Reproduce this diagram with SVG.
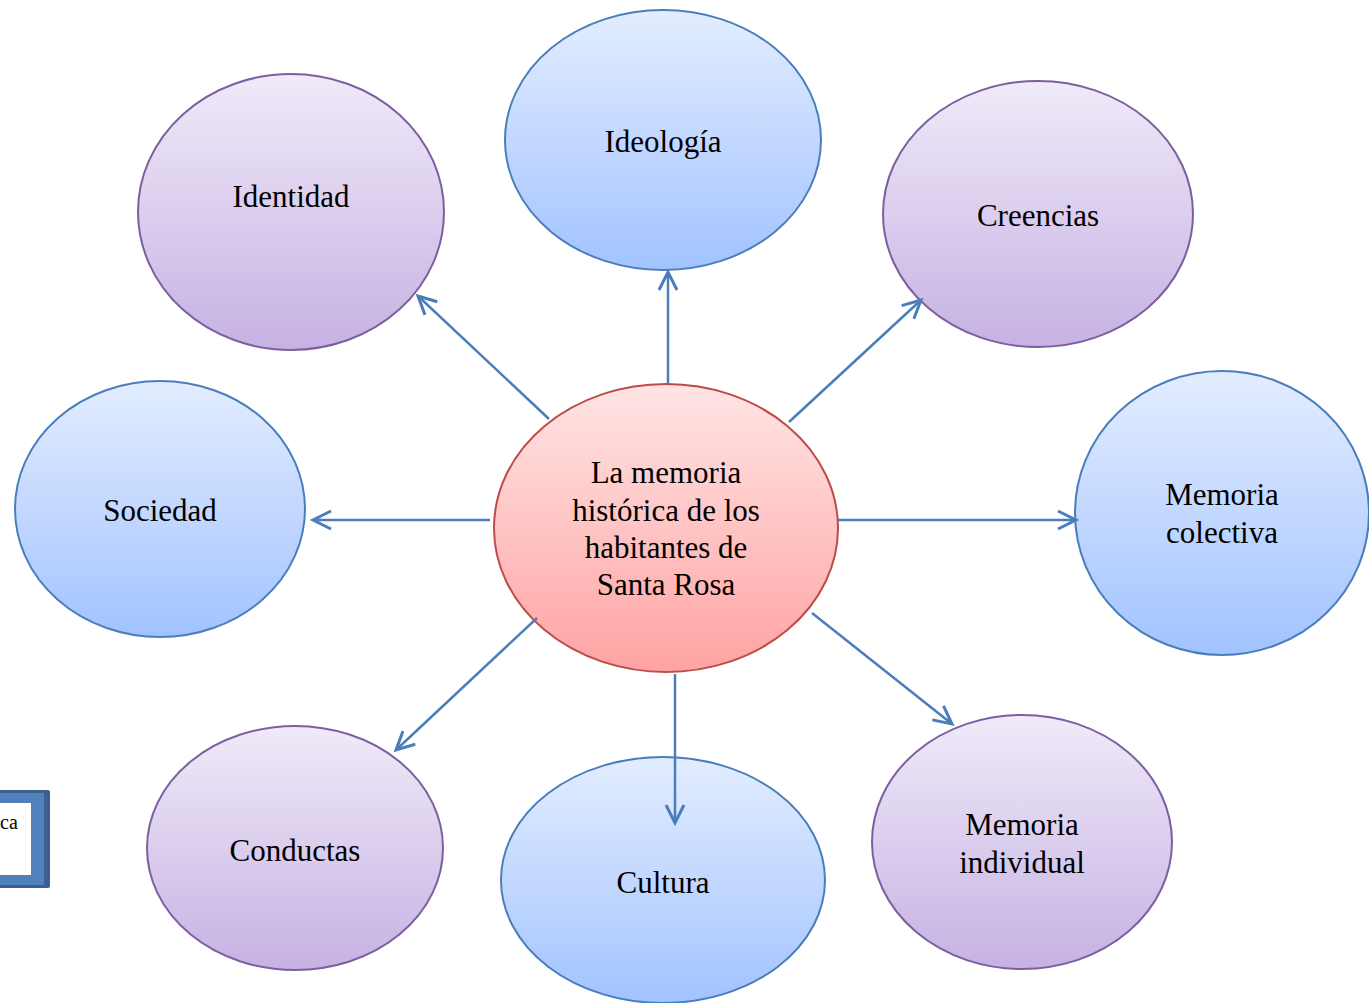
<svg xmlns="http://www.w3.org/2000/svg" width="1369" height="1003" viewBox="0 0 1369 1003">
<defs>
<linearGradient id="gp" x1="0" y1="0" x2="0" y2="1"><stop offset="0" stop-color="#F0EAF9"/><stop offset="1" stop-color="#C6B2E3"/></linearGradient>
<linearGradient id="gb" x1="0" y1="0" x2="0" y2="1"><stop offset="0" stop-color="#E3EDFF"/><stop offset="1" stop-color="#A2C3FF"/></linearGradient>
<linearGradient id="gr" x1="0" y1="0" x2="0" y2="1"><stop offset="0" stop-color="#FFE5E5"/><stop offset="1" stop-color="#FFA3A3"/></linearGradient>
<marker id="ah" markerUnits="userSpaceOnUse" markerWidth="30" markerHeight="30" refX="20" refY="10" orient="auto" viewBox="0 0 30 20">
<path d="M2,1 L20,10 L2,19" fill="none" stroke="#4A7EBB" stroke-width="3"/>
</marker>
</defs>
<style>
.p{fill:url(#gp);stroke:#7D5F9F;stroke-width:2}
.b{fill:url(#gb);stroke:#4A7EBB;stroke-width:2}
.r{fill:url(#gr);stroke:#BE4B48;stroke-width:2}
text{font-size:31px;fill:#000;text-anchor:middle}
.c line{stroke:#4A7EBB;stroke-width:2.5;marker-end:url(#ah)}
</style>
<rect width="1369" height="1003" fill="#fff"/>
<g font-family="'Liberation Serif', 'DejaVu Serif', serif">
<g id="box">
<rect x="-20" y="790" width="70" height="98" fill="#3E5F8F" rx="2"/>
<rect x="-20" y="793" width="64" height="92" fill="#4F81BD"/>
<rect x="-20" y="803" width="51" height="72" fill="#fff"/>
<text x="0" y="829" style="font-size:20px;text-anchor:start">ca</text>
</g>
<g id="n-identidad"><ellipse class="p" cx="291" cy="212" rx="153" ry="138"/><text x="291" y="207">Identidad</text></g>
<g id="n-ideologia"><ellipse class="b" cx="663" cy="140" rx="158" ry="130"/><text x="663" y="152">Ideología</text></g>
<g id="n-creencias"><ellipse class="p" cx="1038" cy="214" rx="155" ry="133"/><text x="1038" y="226">Creencias</text></g>
<g id="n-sociedad"><ellipse class="b" cx="160" cy="509" rx="145" ry="128"/><text x="160" y="521">Sociedad</text></g>
<g id="n-colectiva"><ellipse class="b" cx="1222" cy="513" rx="147" ry="142"/><text x="1222" y="505">Memoria</text><text x="1222" y="543">colectiva</text></g>
<g id="n-conductas"><ellipse class="p" cx="295" cy="848" rx="148" ry="122"/><text x="295" y="861">Conductas</text></g>
<g id="n-cultura"><ellipse class="b" cx="663" cy="880" rx="162" ry="123"/><text x="663" y="893">Cultura</text></g>
<g id="n-individual"><ellipse class="p" cx="1022" cy="842" rx="150" ry="127"/><text x="1022" y="835">Memoria</text><text x="1022" y="873">individual</text></g>
<g id="n-center"><ellipse class="r" cx="666" cy="528" rx="172" ry="144"/>
<text x="666" y="483">La memoria</text><text x="666" y="521">histórica de los</text><text x="666" y="558">habitantes de</text><text x="666" y="595">Santa Rosa</text></g>
</g>
<g id="connectors" class="c">
<line x1="549" y1="419" x2="418" y2="296"/>
<line x1="668" y1="383" x2="668" y2="272"/>
<line x1="789" y1="422" x2="921" y2="300"/>
<line x1="490" y1="520" x2="313" y2="520"/>
<line x1="838" y1="520" x2="1076" y2="520"/>
<line x1="537" y1="618" x2="396" y2="750"/>
<line x1="675" y1="674" x2="675" y2="823"/>
<line x1="812" y1="613" x2="952" y2="724"/>
</g>
</svg>
